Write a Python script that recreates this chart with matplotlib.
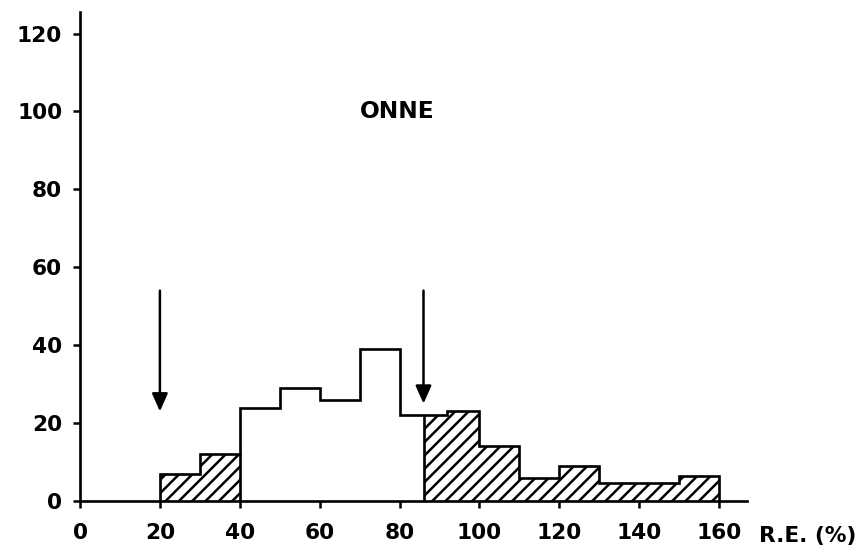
import numpy as np
import matplotlib
matplotlib.use('agg')
import matplotlib.pyplot as plt
from matplotlib import transforms

# histogram of R.E. (%) -- step edges and heights
edges = [20, 30, 40, 50, 60, 70, 80, 86, 92, 100, 110, 120, 130, 140, 150, 160]
counts = [7, 12, 24, 29, 26, 39, 22, 22, 23, 14, 6, 9, 4.5, 4.5, 6.5]
hatched = [True, True, False, False, False, False, False,
           True, True, True, True, True, True, True, True]

# arrows marking the limits
arrow_x = [20, 86]
arrow_top = [54, 54]
arrow_tip = [23, 25]

xticks = [0, 20, 40, 60, 80, 100, 120, 140, 160]
yticks = [0, 20, 40, 60, 80, 100, 120]

plt.rcParams['font.family'] = ['DejaVu Sans']
plt.rcParams['hatch.linewidth'] = 1.5

fig = plt.figure(figsize=(867/120, 552/120), dpi=120)
ax = fig.add_axes([0.0923, 0.0924, 0.7693, 0.8856])

edges = np.array(edges)
widths = np.diff(edges)
for i in range(len(counts)):
    if hatched[i]:
        ax.bar(edges[i], counts[i], width=widths[i], align='edge', fill=False,
               hatch='///', edgecolor='black', linewidth=0)

ax.stairs(counts, edges, color='black', linewidth=1.6, baseline=0)

# vertical lines where the hatching starts or stops
for i in range(1, len(counts)):
    if hatched[i] != hatched[i-1]:
        ax.vlines(edges[i], 0, min(counts[i], counts[i-1]), color='black', linewidth=1.6)

for x, y0, y1 in zip(arrow_x, arrow_top, arrow_tip):
    ax.annotate('', xy=(x, y1), xytext=(x, y0),
                arrowprops=dict(arrowstyle='-|>,head_length=0.9,head_width=0.4',
                                color='black', lw=1.5, shrinkA=0, shrinkB=0))

ax.text(79.5, 100, 'ONNE', ha='center', va='center', fontsize=14, fontweight='bold')

ax.set_xlim(0, 167)
ax.set_ylim(0, 125.5)
ax.set_xticks(xticks)
ax.set_yticks(yticks)
ax.tick_params(direction='out', length=4.2, width=1.5, labelsize=13, pad=6.5)
for lab in ax.get_xticklabels() + ax.get_yticklabels():
    lab.set_fontweight('bold')
ax.tick_params(axis='x', pad=9)

for s in ['top', 'right']:
    ax.spines[s].set_visible(False)
for s in ['left', 'bottom']:
    ax.spines[s].set_linewidth(1.6)

trans = transforms.blended_transform_factory(ax.transData, ax.transAxes)
ax.text(170, -0.052, 'R.E. (%)', transform=trans, ha='left', va='top',
        fontsize=13, fontweight='bold')

fig.savefig('out.png', dpi=120)
